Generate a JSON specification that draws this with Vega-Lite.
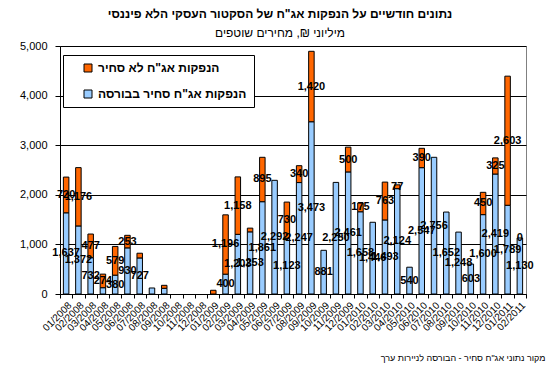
{
  "$schema": "https://vega.github.io/schema/vega-lite/v6.json",
  "autosize": {"type": "none"},
  "padding": {"left": 60, "top": 46, "right": 30, "bottom": 85},
  "width": 466,
  "height": 248,
  "background": "white",
  "config": {"view": {"stroke": "#808080", "strokeWidth": 1}, "font": "Liberation Sans"},
  "title": {
    "text": "נתונים חודשיים על הנפקות אג\"ח של הסקטור העסקי הלא פיננסי",
    "subtitle": "מיליוני ₪, מחירים שוטפים",
    "anchor": "middle",
    "frame": "group",
    "dx": -13,
    "offset": 0,
    "font": "Liberation Sans",
    "fontSize": 12,
    "fontWeight": "bold",
    "color": "black",
    "subtitleFont": "Liberation Sans",
    "subtitleFontSize": 12,
    "subtitleColor": "black",
    "subtitlePadding": 7
  },
  "data": {"values": [
    {"month": "01/2008", "type": "הנפקות אג\"ח סחיר בבורסה", "value": 1637},
    {"month": "01/2008", "type": "הנפקות אג\"ח לא סחיר", "value": 720},
    {"month": "02/2008", "type": "הנפקות אג\"ח סחיר בבורסה", "value": 1372},
    {"month": "02/2008", "type": "הנפקות אג\"ח לא סחיר", "value": 1176},
    {"month": "03/2008", "type": "הנפקות אג\"ח סחיר בבורסה", "value": 732},
    {"month": "03/2008", "type": "הנפקות אג\"ח לא סחיר", "value": 477},
    {"month": "04/2008", "type": "הנפקות אג\"ח סחיר בבורסה", "value": 127, "lbl": 0},
    {"month": "04/2008", "type": "הנפקות אג\"ח לא סחיר", "value": 274},
    {"month": "05/2008", "type": "הנפקות אג\"ח סחיר בבורסה", "value": 380},
    {"month": "05/2008", "type": "הנפקות אג\"ח לא סחיר", "value": 579},
    {"month": "06/2008", "type": "הנפקות אג\"ח סחיר בבורסה", "value": 930},
    {"month": "06/2008", "type": "הנפקות אג\"ח לא סחיר", "value": 253},
    {"month": "07/2008", "type": "הנפקות אג\"ח סחיר בבורסה", "value": 727},
    {"month": "07/2008", "type": "הנפקות אג\"ח לא סחיר", "value": 95, "lbl": 0},
    {"month": "08/2008", "type": "הנפקות אג\"ח סחיר בבורסה", "value": 121, "lbl": 0},
    {"month": "09/2008", "type": "הנפקות אג\"ח סחיר בבורסה", "value": 115, "lbl": 0},
    {"month": "09/2008", "type": "הנפקות אג\"ח לא סחיר", "value": 60, "lbl": 0},
    {"month": "01/2009", "type": "הנפקות אג\"ח לא סחיר", "value": 75, "lbl": 0},
    {"month": "02/2009", "type": "הנפקות אג\"ח סחיר בבורסה", "value": 400},
    {"month": "02/2009", "type": "הנפקות אג\"ח לא סחיר", "value": 1196},
    {"month": "03/2009", "type": "הנפקות אג\"ח סחיר בבורסה", "value": 1203},
    {"month": "03/2009", "type": "הנפקות אג\"ח לא סחיר", "value": 1158},
    {"month": "04/2009", "type": "הנפקות אג\"ח סחיר בבורסה", "value": 1253},
    {"month": "04/2009", "type": "הנפקות אג\"ח לא סחיר", "value": 75, "lbl": 0},
    {"month": "05/2009", "type": "הנפקות אג\"ח סחיר בבורסה", "value": 1861},
    {"month": "05/2009", "type": "הנפקות אג\"ח לא סחיר", "value": 895},
    {"month": "06/2009", "type": "הנפקות אג\"ח סחיר בבורסה", "value": 2292},
    {"month": "07/2009", "type": "הנפקות אג\"ח סחיר בבורסה", "value": 1123},
    {"month": "07/2009", "type": "הנפקות אג\"ח לא סחיר", "value": 730},
    {"month": "08/2009", "type": "הנפקות אג\"ח סחיר בבורסה", "value": 2247},
    {"month": "08/2009", "type": "הנפקות אג\"ח לא סחיר", "value": 340},
    {"month": "09/2009", "type": "הנפקות אג\"ח סחיר בבורסה", "value": 3473},
    {"month": "09/2009", "type": "הנפקות אג\"ח לא סחיר", "value": 1420},
    {"month": "10/2009", "type": "הנפקות אג\"ח סחיר בבורסה", "value": 881},
    {"month": "11/2009", "type": "הנפקות אג\"ח סחיר בבורסה", "value": 2250},
    {"month": "12/2009", "type": "הנפקות אג\"ח סחיר בבורסה", "value": 2461},
    {"month": "12/2009", "type": "הנפקות אג\"ח לא סחיר", "value": 500},
    {"month": "01/2010", "type": "הנפקות אג\"ח סחיר בבורסה", "value": 1658},
    {"month": "01/2010", "type": "הנפקות אג\"ח לא סחיר", "value": 175},
    {"month": "02/2010", "type": "הנפקות אג\"ח סחיר בבורסה", "value": 1446},
    {"month": "03/2010", "type": "הנפקות אג\"ח סחיר בבורסה", "value": 1493},
    {"month": "03/2010", "type": "הנפקות אג\"ח לא סחיר", "value": 763},
    {"month": "04/2010", "type": "הנפקות אג\"ח סחיר בבורסה", "value": 2124},
    {"month": "04/2010", "type": "הנפקות אג\"ח לא סחיר", "value": 77},
    {"month": "05/2010", "type": "הנפקות אג\"ח סחיר בבורסה", "value": 540},
    {"month": "06/2010", "type": "הנפקות אג\"ח סחיר בבורסה", "value": 2547},
    {"month": "06/2010", "type": "הנפקות אג\"ח לא סחיר", "value": 390},
    {"month": "07/2010", "type": "הנפקות אג\"ח סחיר בבורסה", "value": 2756},
    {"month": "08/2010", "type": "הנפקות אג\"ח סחיר בבורסה", "value": 1652},
    {"month": "09/2010", "type": "הנפקות אג\"ח סחיר בבורסה", "value": 1248},
    {"month": "10/2010", "type": "הנפקות אג\"ח סחיר בבורסה", "value": 603},
    {"month": "11/2010", "type": "הנפקות אג\"ח סחיר בבורסה", "value": 1600},
    {"month": "11/2010", "type": "הנפקות אג\"ח לא סחיר", "value": 450},
    {"month": "12/2010", "type": "הנפקות אג\"ח סחיר בבורסה", "value": 2419},
    {"month": "12/2010", "type": "הנפקות אג\"ח לא סחיר", "value": 325},
    {"month": "01/2011", "type": "הנפקות אג\"ח סחיר בבורסה", "value": 1789},
    {"month": "01/2011", "type": "הנפקות אג\"ח לא סחיר", "value": 2603},
    {"month": "02/2011", "type": "הנפקות אג\"ח סחיר בבורסה", "value": 1130},
    {"month": "02/2011", "type": "הנפקות אג\"ח לא סחיר", "value": 0}
  ]},
  "transform": [
    {"stack": "value", "groupby": ["month"], "sort": [{"field": "type", "order": "descending"}], "as": ["v0", "v1"]},
    {"calculate": "(datum.v0 + datum.v1) / 2", "as": "mid"}
  ],
  "encoding": {
    "x": {
      "field": "month",
      "type": "ordinal",
      "scale": {
        "domain": ["01/2008","02/2008","03/2008","04/2008","05/2008","06/2008","07/2008","08/2008","09/2008","10/2008","11/2008","12/2008",
                   "01/2009","02/2009","03/2009","04/2009","05/2009","06/2009","07/2009","08/2009","09/2009","10/2009","11/2009","12/2009",
                   "01/2010","02/2010","03/2010","04/2010","05/2010","06/2010","07/2010","08/2010","09/2010","10/2010","11/2010","12/2010",
                   "01/2011","02/2011"],
        "paddingInner": 0,
        "paddingOuter": 0
      },
      "axis": {
        "title": "מקור נתוני אג\"ח סחיר - הבורסה לניירות ערך",
        "titleX": 485,
        "titleY": 63,
        "titleAlign": "right",
        "titleAnchor": null,
        "titleBaseline": "middle",
        "titleFontSize": 9,
        "titleFontWeight": "normal",
        "titleColor": "black",
        "labelAngle": -45,
        "labelFontSize": 10,
        "labelColor": "black",
        "labelPadding": 2,
        "tickBand": "extent",
        "tickSize": 4,
        "tickColor": "black",
        "domainColor": "black",
        "grid": false
      }
    }
  },
  "layer": [
    {
      "transform": [{"filter": "datum.value > 0"}],
      "mark": {"type": "bar", "size": 5.5, "stroke": "black", "strokeWidth": 1},
      "encoding": {
        "y": {
          "field": "v1",
          "type": "quantitative",
          "scale": {"domain": [0, 5000]},
          "axis": {
            "title": null,
            "values": [0,500,1000,1500,2000,2500,3000,3500,4000,4500,5000],
            "format": ",.0f",
            "labelFontSize": 11,
            "labelColor": "black",
            "labelPadding": 8,
            "tickSize": 5,
            "tickColor": "black",
            "domainColor": "black",
            "gridColor": "black",
            "gridOpacity": 1,
            "gridWidth": 1
          }
        },
        "y2": {"field": "v0"},
        "color": {
          "field": "type",
          "type": "nominal",
          "scale": {
            "domain": ["הנפקות אג\"ח לא סחיר", "הנפקות אג\"ח סחיר בבורסה"],
            "range": ["#FF6600", "#99CCFF"]
          },
          "legend": {
            "title": null,
            "orient": "none",
            "legendX": 3,
            "legendY": 9,
            "strokeColor": "black",
            "fillColor": "white",
            "padding": 7,
            "symbolType": "square",
            "symbolSize": 64,
            "symbolStrokeColor": "black",
            "symbolStrokeWidth": 1,
            "symbolOffset": 12,
            "labelFontSize": 12,
            "labelFontWeight": "bold",
            "labelColor": "black",
            "labelOffset": 4,
            "rowPadding": 14
          }
        }
      }
    },
    {
      "transform": [{"filter": "datum.lbl !== 0"}],
      "mark": {"type": "text", "fontWeight": "bold", "fontSize": 11, "color": "black", "baseline": "middle", "align": "center"},
      "encoding": {
        "y": {"field": "mid", "type": "quantitative"},
        "text": {"field": "value", "type": "quantitative", "format": ","}
      }
    }
  ]
}
